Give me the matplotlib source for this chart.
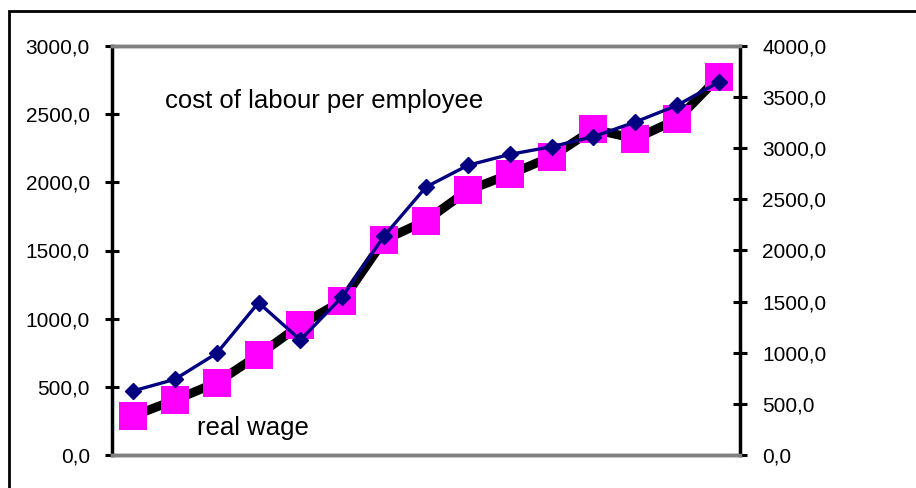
import matplotlib
matplotlib.use("Agg")
import matplotlib.pyplot as plt
from matplotlib.patches import Rectangle

plt.rcParams['font.family'] = ['Liberation Sans', 'DejaVu Sans']

# real wage (left axis) and cost of labour per employee (right axis), 15 periods
real_wage = [286, 403, 531, 733, 954, 1132, 1577, 1719, 1941, 2059, 2188, 2389, 2320, 2462, 2775]
labour_cost = [626, 740, 994, 1490, 1125, 1548, 2142, 2621, 2833, 2940, 3015, 3113, 3257, 3420, 3648]
left_ticks = [0, 500, 1000, 1500, 2000, 2500, 3000]
right_ticks = [0, 500, 1000, 1500, 2000, 2500, 3000, 3500, 4000]

x = list(range(len(real_wage)))

fig = plt.figure(figsize=(9.16, 4.88), dpi=100)
ax = fig.add_axes([112/916, 33/488, 628/916, 409/488])
ax2 = ax.twinx()

# outer chart frame (cut at right and bottom)
fig.patches.append(Rectangle((9/916, -0.2), 2.0, 1.2 - 11/488, fill=False,
                             lw=2, edgecolor='black', transform=fig.transFigure))

ax.plot(x, real_wage, color='black', lw=6.5, solid_joinstyle='round', zorder=2)
ax.plot(x, real_wage, ls='none', marker='s', ms=20, color='#ff00ff', mec='#ff00ff', mew=0, zorder=3)
ax2.plot(x, labour_cost, color='#000080', lw=2.4, marker='D', ms=8, mec='#000080', zorder=4)

ax.set_xlim(-0.5, len(x) - 0.5)
ax.set_ylim(0, 3000)
ax2.set_ylim(0, 4000)
ax.set_yticks(left_ticks)
ax.set_yticklabels([f"{v:.1f}".replace('.', ',') for v in left_ticks])
ax2.set_yticks(right_ticks)
ax2.set_yticklabels([f"{v:.1f}".replace('.', ',') for v in right_ticks])
ax.set_xticks([])

for a in (ax, ax2):
    a.tick_params(axis='y', direction='inout', length=10, width=2.2, pad=11, labelsize=15)
    a.spines['top'].set_color('#808080')
    a.spines['bottom'].set_color('#808080')
    a.spines['top'].set_linewidth(2.5)
    a.spines['bottom'].set_linewidth(2.5)
ax.spines['left'].set_linewidth(2.5)
ax.spines['right'].set_visible(False)
ax2.spines['right'].set_linewidth(2.5)
ax2.spines['left'].set_visible(False)
ax2.set_zorder(ax.get_zorder() + 1)
ax2.patch.set_visible(False)

ax.text(0.0844, 0.866, "cost of labour per employee", transform=ax.transAxes,
        fontsize=18.5, va='center', ha='left')
ax.text(0.1354, 0.066, "real wage", transform=ax.transAxes,
        fontsize=18.5, va='center', ha='left')

fig.savefig("out.png", dpi=100)
